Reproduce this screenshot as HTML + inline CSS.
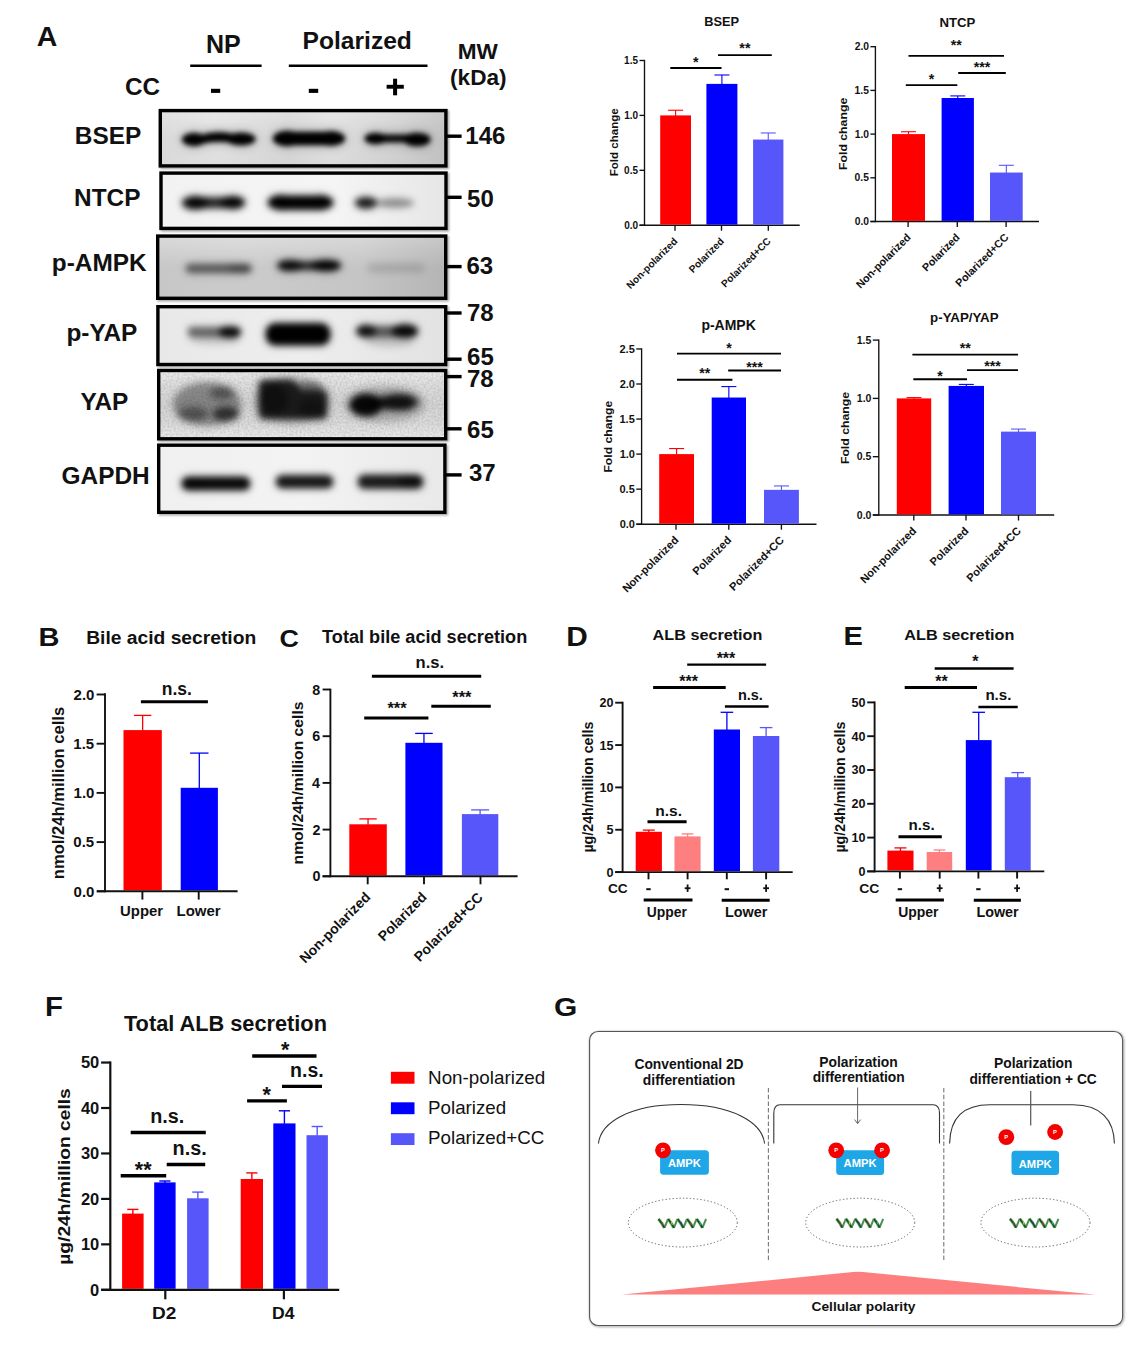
<!DOCTYPE html><html><head><meta charset="utf-8"><title>Figure</title><style>html,body{margin:0;padding:0;background:#fff;width:1147px;height:1345px;overflow:hidden;}svg{display:block;font-family:"Liberation Sans",sans-serif;}</style></head><body><svg width="1147" height="1345" viewBox="0 0 1147 1345" font-family="Liberation Sans, sans-serif"><defs><filter id="bl2" x="-30%" y="-60%" width="160%" height="220%"><feGaussianBlur stdDeviation="2"/></filter><filter id="bl15" x="-30%" y="-60%" width="160%" height="220%"><feGaussianBlur stdDeviation="1.5"/></filter><filter id="bl25" x="-30%" y="-60%" width="160%" height="220%"><feGaussianBlur stdDeviation="2.5"/></filter><filter id="bl23" x="-30%" y="-60%" width="160%" height="220%"><feGaussianBlur stdDeviation="2.6"/></filter><filter id="bl28" x="-30%" y="-60%" width="160%" height="220%"><feGaussianBlur stdDeviation="3.1"/></filter><filter id="bl6" x="-30%" y="-100%" width="160%" height="300%"><feGaussianBlur stdDeviation="5.5"/></filter><filter id="bl3" x="-30%" y="-60%" width="160%" height="220%"><feGaussianBlur stdDeviation="3"/></filter><filter id="noise" x="0" y="0" width="100%" height="100%"><feTurbulence type="fractalNoise" baseFrequency="0.5" numOctaves="2" seed="3" result="t0"/><feGaussianBlur in="t0" stdDeviation="0.5" result="t"/><feColorMatrix in="t" type="matrix" values="0 0 0 0 0  0 0 0 0 0  0 0 0 0 0  1.2 0 0 0 -0.4" result="a"/><feComposite in="a" in2="SourceGraphic" operator="in"/></filter><filter id="shadow" x="-5%" y="-10%" width="115%" height="130%"><feGaussianBlur stdDeviation="1.2"/></filter><linearGradient id="g_bsep" x1="0" y1="0" x2="1" y2="0"><stop offset="0" stop-color="#e2e2e2"/><stop offset="0.2" stop-color="#e8e8e8"/><stop offset="0.45" stop-color="#dedede"/><stop offset="0.6" stop-color="#e6e6e6"/><stop offset="0.8" stop-color="#dadada"/><stop offset="1" stop-color="#c8c8c8"/></linearGradient><linearGradient id="g_ntcp" x1="0" y1="0" x2="1" y2="0"><stop offset="0" stop-color="#f2f2f2"/><stop offset="0.6" stop-color="#f5f5f5"/><stop offset="1" stop-color="#e6e6e6"/></linearGradient><linearGradient id="g_ampk" x1="0" y1="0" x2="1" y2="0"><stop offset="0" stop-color="#d8d8d8"/><stop offset="0.3" stop-color="#dcdcdc"/><stop offset="0.7" stop-color="#d6d6d6"/><stop offset="1" stop-color="#c4c4c4"/></linearGradient><linearGradient id="g_pyap" x1="0" y1="0" x2="1" y2="0"><stop offset="0" stop-color="#e8e8e8"/><stop offset="0.5" stop-color="#eeeeee"/><stop offset="1" stop-color="#e2e2e2"/></linearGradient><linearGradient id="g_yap" x1="0" y1="0" x2="0" y2="1"><stop offset="0" stop-color="#eeeeee"/><stop offset="0.25" stop-color="#dedede"/><stop offset="0.5" stop-color="#d6d6d6"/><stop offset="0.75" stop-color="#dcdcdc"/><stop offset="1" stop-color="#eeeeee"/></linearGradient><linearGradient id="g_gapdh" x1="0" y1="0" x2="1" y2="0"><stop offset="0" stop-color="#f0f0f0"/><stop offset="0.5" stop-color="#f3f3f3"/><stop offset="1" stop-color="#e9e9e9"/></linearGradient><linearGradient id="v_ampk" x1="0" y1="0" x2="0" y2="1"><stop offset="0" stop-color="#fff"/><stop offset="0.5" stop-color="#000"/><stop offset="1" stop-color="#000"/></linearGradient><clipPath id="clipbox0"><rect x="158.6" y="108.9" width="289" height="58.7"/></clipPath><clipPath id="clipbox1"><rect x="159.3" y="171.4" width="288.4" height="58.7"/></clipPath><clipPath id="clipbox2"><rect x="156" y="234.4" width="291.4" height="65.6"/></clipPath><clipPath id="clipbox3"><rect x="156.2" y="305" width="291.2" height="61.2"/></clipPath><clipPath id="clipbox4"><rect x="157" y="368.8" width="290.4" height="71.7"/></clipPath><clipPath id="clipbox5"><rect x="157" y="443.5" width="289.6" height="70.5"/></clipPath><filter id="gsh" x="-5%" y="-5%" width="110%" height="110%"><feGaussianBlur stdDeviation="0.8"/></filter></defs><rect x="160.1" y="110.4" width="289" height="58.7" fill="#000" fill-opacity="0.35" filter="url(#shadow)"/>
<rect x="160.8" y="172.9" width="288.4" height="58.7" fill="#000" fill-opacity="0.35" filter="url(#shadow)"/>
<rect x="157.5" y="235.9" width="291.4" height="65.6" fill="#000" fill-opacity="0.35" filter="url(#shadow)"/>
<rect x="157.7" y="306.5" width="291.2" height="61.2" fill="#000" fill-opacity="0.35" filter="url(#shadow)"/>
<rect x="158.5" y="370.3" width="290.4" height="71.7" fill="#000" fill-opacity="0.35" filter="url(#shadow)"/>
<rect x="158.5" y="445" width="289.6" height="70.5" fill="#000" fill-opacity="0.35" filter="url(#shadow)"/>
<rect x="158.6" y="108.9" width="289" height="58.7" fill="url(#g_bsep)"/>
<rect x="159.3" y="171.4" width="288.4" height="58.7" fill="url(#g_ntcp)"/>
<rect x="156" y="234.4" width="291.4" height="65.6" fill="url(#g_ampk)"/>
<rect x="156.2" y="305" width="291.2" height="61.2" fill="url(#g_pyap)"/>
<rect x="157" y="368.8" width="290.4" height="71.7" fill="url(#g_yap)"/>
<rect x="157" y="443.5" width="289.6" height="70.5" fill="url(#g_gapdh)"/>
<rect x="156" y="234.4" width="291.4" height="65.6" fill="url(#v_ampk)" opacity="0.08"/>
<rect x="158.6" y="108.9" width="289" height="58.7" fill="url(#v_ampk)" opacity="0.04"/>
<rect x="157" y="368.8" width="290.4" height="71.7" fill="#666" filter="url(#noise)" opacity="0.2"/>
<g clip-path="url(#clipbox0)"><g filter="url(#bl6)" opacity="0.35"><ellipse cx="194" cy="139.5" rx="12" ry="6.5" fill="#000" fill-opacity="1.0"/><ellipse cx="241" cy="139" rx="14.5" ry="6.2" fill="#000" fill-opacity="1.0"/><path d="M200 135.5 Q216 130 233 134 L233 143 Q216 140 200 144 Z" fill="#000"/><ellipse cx="287" cy="138.5" rx="14" ry="7.5" fill="#000" fill-opacity="1.0"/><ellipse cx="331" cy="138.5" rx="14" ry="7.2" fill="#000" fill-opacity="1.0"/><rect x="285" y="132" width="48" height="13" rx="0" fill="#000" fill-opacity="1.0"/><ellipse cx="375.5" cy="138.5" rx="11" ry="5.6" fill="#000" fill-opacity="1.0"/><ellipse cx="417" cy="139.5" rx="13.5" ry="6.6" fill="#000" fill-opacity="1.0"/><rect x="380" y="134.6" width="30" height="7.8" rx="0" fill="#000" fill-opacity="0.95"/></g><g filter="url(#bl23)"><ellipse cx="194" cy="139.5" rx="12" ry="6.5" fill="#000" fill-opacity="1.0"/><ellipse cx="241" cy="139" rx="14.5" ry="6.2" fill="#000" fill-opacity="1.0"/><path d="M200 135.5 Q216 130 233 134 L233 143 Q216 140 200 144 Z" fill="#000"/><ellipse cx="287" cy="138.5" rx="14" ry="7.5" fill="#000" fill-opacity="1.0"/><ellipse cx="331" cy="138.5" rx="14" ry="7.2" fill="#000" fill-opacity="1.0"/><rect x="285" y="132" width="48" height="13" rx="0" fill="#000" fill-opacity="1.0"/><ellipse cx="375.5" cy="138.5" rx="11" ry="5.6" fill="#000" fill-opacity="1.0"/><ellipse cx="417" cy="139.5" rx="13.5" ry="6.6" fill="#000" fill-opacity="1.0"/><rect x="380" y="134.6" width="30" height="7.8" rx="0" fill="#000" fill-opacity="0.95"/></g></g>
<g clip-path="url(#clipbox1)"><g filter="url(#bl6)" opacity="0.35"><ellipse cx="195" cy="202.8" rx="13" ry="6.5" fill="#000" fill-opacity="0.85"/><ellipse cx="233" cy="202.5" rx="12" ry="6.2" fill="#000" fill-opacity="0.9"/><rect x="188" y="197.5" width="52" height="10.5" rx="4" fill="#000" fill-opacity="0.8"/><ellipse cx="281" cy="202.5" rx="13" ry="7.2" fill="#000" fill-opacity="1.0"/><ellipse cx="320" cy="202.5" rx="13" ry="7" fill="#000" fill-opacity="1.0"/><rect x="280" y="196" width="41" height="13.5" rx="0" fill="#000" fill-opacity="1.0"/><ellipse cx="366" cy="202.8" rx="11" ry="5.6" fill="#000" fill-opacity="0.85"/><ellipse cx="395" cy="203" rx="19" ry="4.6" fill="#000" fill-opacity="0.35"/></g><g filter="url(#bl28)"><ellipse cx="195" cy="202.8" rx="13" ry="6.5" fill="#000" fill-opacity="0.85"/><ellipse cx="233" cy="202.5" rx="12" ry="6.2" fill="#000" fill-opacity="0.9"/><rect x="188" y="197.5" width="52" height="10.5" rx="4" fill="#000" fill-opacity="0.8"/><ellipse cx="281" cy="202.5" rx="13" ry="7.2" fill="#000" fill-opacity="1.0"/><ellipse cx="320" cy="202.5" rx="13" ry="7" fill="#000" fill-opacity="1.0"/><rect x="280" y="196" width="41" height="13.5" rx="0" fill="#000" fill-opacity="1.0"/><ellipse cx="366" cy="202.8" rx="11" ry="5.6" fill="#000" fill-opacity="0.85"/><ellipse cx="395" cy="203" rx="19" ry="4.6" fill="#000" fill-opacity="0.35"/></g></g>
<g clip-path="url(#clipbox2)"><g filter="url(#bl6)" opacity="0.35"><rect x="186" y="264" width="65" height="9" rx="4" fill="#000" fill-opacity="0.5"/><ellipse cx="240" cy="268.5" rx="12" ry="4.5" fill="#000" fill-opacity="0.2"/><ellipse cx="290" cy="265.5" rx="13" ry="5.5" fill="#000" fill-opacity="0.8"/><ellipse cx="326" cy="265.5" rx="15" ry="5.5" fill="#000" fill-opacity="0.95"/><rect x="280" y="261.5" width="58" height="8.5" rx="3" fill="#000" fill-opacity="0.75"/><rect x="368" y="263.5" width="56" height="9" rx="4" fill="#000" fill-opacity="0.1"/></g><g filter="url(#bl28)"><rect x="186" y="264" width="65" height="9" rx="4" fill="#000" fill-opacity="0.5"/><ellipse cx="240" cy="268.5" rx="12" ry="4.5" fill="#000" fill-opacity="0.2"/><ellipse cx="290" cy="265.5" rx="13" ry="5.5" fill="#000" fill-opacity="0.8"/><ellipse cx="326" cy="265.5" rx="15" ry="5.5" fill="#000" fill-opacity="0.95"/><rect x="280" y="261.5" width="58" height="8.5" rx="3" fill="#000" fill-opacity="0.75"/><rect x="368" y="263.5" width="56" height="9" rx="4" fill="#000" fill-opacity="0.1"/></g></g>
<g clip-path="url(#clipbox3)"><g filter="url(#bl6)" opacity="0.35"><rect x="188" y="327" width="52" height="10" rx="4" fill="#000" fill-opacity="0.5"/><ellipse cx="230" cy="332" rx="11" ry="5.5" fill="#000" fill-opacity="0.9"/><ellipse cx="215" cy="340" rx="25" ry="5" fill="#000" fill-opacity="0.1"/><rect x="266" y="323.5" width="64" height="21.5" rx="9" fill="#000" fill-opacity="1"/><ellipse cx="366" cy="331" rx="10" ry="6" fill="#000" fill-opacity="0.8"/><ellipse cx="405" cy="331" rx="13" ry="6.5" fill="#000" fill-opacity="0.9"/><rect x="358" y="326" width="59" height="11" rx="5" fill="#000" fill-opacity="0.55"/><ellipse cx="390" cy="341" rx="25" ry="6" fill="#000" fill-opacity="0.12"/></g><g filter="url(#bl28)"><rect x="188" y="327" width="52" height="10" rx="4" fill="#000" fill-opacity="0.5"/><ellipse cx="230" cy="332" rx="11" ry="5.5" fill="#000" fill-opacity="0.9"/><ellipse cx="215" cy="340" rx="25" ry="5" fill="#000" fill-opacity="0.1"/><rect x="266" y="323.5" width="64" height="21.5" rx="9" fill="#000" fill-opacity="1"/><ellipse cx="366" cy="331" rx="10" ry="6" fill="#000" fill-opacity="0.8"/><ellipse cx="405" cy="331" rx="13" ry="6.5" fill="#000" fill-opacity="0.9"/><rect x="358" y="326" width="59" height="11" rx="5" fill="#000" fill-opacity="0.55"/><ellipse cx="390" cy="341" rx="25" ry="6" fill="#000" fill-opacity="0.12"/></g></g>
<g clip-path="url(#clipbox4)"><g filter="url(#bl6)" opacity="0.35"><ellipse cx="207" cy="404" rx="34" ry="22" fill="#000" fill-opacity="0.3"/><ellipse cx="222" cy="393" rx="12" ry="6" fill="#000" fill-opacity="0.35"/><ellipse cx="226" cy="414" rx="13" ry="7" fill="#000" fill-opacity="0.6"/><ellipse cx="193" cy="414" rx="15" ry="7" fill="#000" fill-opacity="0.35"/><path d="M259 384 Q259 380 265 380 L290 380 Q297 381 300 391 L322 391 Q327 391 327 396 L327 414 Q327 419 321 419 L264 419 Q259 419 259 413 Z" fill="#000" fill-opacity="0.8"/><ellipse cx="274" cy="399" rx="14" ry="15" fill="#000" fill-opacity="0.4"/><ellipse cx="312" cy="408" rx="13" ry="9" fill="#000" fill-opacity="0.3"/><ellipse cx="309" cy="388" rx="14" ry="6" fill="#000" fill-opacity="0.35"/><ellipse cx="292" cy="400" rx="38" ry="24" fill="#000" fill-opacity="0.15"/><ellipse cx="366" cy="405" rx="16" ry="11" fill="#000" fill-opacity="0.95"/><ellipse cx="399" cy="402" rx="19" ry="8" fill="#000" fill-opacity="0.75"/><rect x="370" y="396" width="42" height="14" rx="5" fill="#000" fill-opacity="0.5"/><ellipse cx="385" cy="404" rx="40" ry="18" fill="#000" fill-opacity="0.15"/></g><g filter="url(#bl3)"><ellipse cx="207" cy="404" rx="34" ry="22" fill="#000" fill-opacity="0.3"/><ellipse cx="222" cy="393" rx="12" ry="6" fill="#000" fill-opacity="0.35"/><ellipse cx="226" cy="414" rx="13" ry="7" fill="#000" fill-opacity="0.6"/><ellipse cx="193" cy="414" rx="15" ry="7" fill="#000" fill-opacity="0.35"/><path d="M259 384 Q259 380 265 380 L290 380 Q297 381 300 391 L322 391 Q327 391 327 396 L327 414 Q327 419 321 419 L264 419 Q259 419 259 413 Z" fill="#000" fill-opacity="0.8"/><ellipse cx="274" cy="399" rx="14" ry="15" fill="#000" fill-opacity="0.4"/><ellipse cx="312" cy="408" rx="13" ry="9" fill="#000" fill-opacity="0.3"/><ellipse cx="309" cy="388" rx="14" ry="6" fill="#000" fill-opacity="0.35"/><ellipse cx="292" cy="400" rx="38" ry="24" fill="#000" fill-opacity="0.15"/><ellipse cx="366" cy="405" rx="16" ry="11" fill="#000" fill-opacity="0.95"/><ellipse cx="399" cy="402" rx="19" ry="8" fill="#000" fill-opacity="0.75"/><rect x="370" y="396" width="42" height="14" rx="5" fill="#000" fill-opacity="0.5"/><ellipse cx="385" cy="404" rx="40" ry="18" fill="#000" fill-opacity="0.15"/></g></g>
<g clip-path="url(#clipbox5)"><g filter="url(#bl6)" opacity="0.35"><rect x="182" y="477" width="68" height="13" rx="6" fill="#000" fill-opacity="0.95"/><ellipse cx="192" cy="484" rx="11" ry="6.5" fill="#000" fill-opacity="0.3"/><rect x="276" y="475.5" width="57" height="12.5" rx="6" fill="#000" fill-opacity="0.88"/><rect x="358" y="475" width="65" height="13.5" rx="6" fill="#000" fill-opacity="0.85"/><ellipse cx="410" cy="481.5" rx="12" ry="6.5" fill="#000" fill-opacity="0.5"/></g><g filter="url(#bl28)"><rect x="182" y="477" width="68" height="13" rx="6" fill="#000" fill-opacity="0.95"/><ellipse cx="192" cy="484" rx="11" ry="6.5" fill="#000" fill-opacity="0.3"/><rect x="276" y="475.5" width="57" height="12.5" rx="6" fill="#000" fill-opacity="0.88"/><rect x="358" y="475" width="65" height="13.5" rx="6" fill="#000" fill-opacity="0.85"/><ellipse cx="410" cy="481.5" rx="12" ry="6.5" fill="#000" fill-opacity="0.5"/></g></g>
<rect x="160.3" y="110.6" width="285.6" height="55.3" fill="none" stroke="#000" stroke-width="3.4"/>
<rect x="161" y="173.1" width="285" height="55.3" fill="none" stroke="#000" stroke-width="3.4"/>
<rect x="157.7" y="236.1" width="288" height="62.2" fill="none" stroke="#000" stroke-width="3.4"/>
<rect x="157.9" y="306.7" width="287.8" height="57.8" fill="none" stroke="#000" stroke-width="3.4"/>
<rect x="158.7" y="370.5" width="287" height="68.3" fill="none" stroke="#000" stroke-width="3.4"/>
<rect x="158.7" y="445.2" width="286.2" height="67.1" fill="none" stroke="#000" stroke-width="3.4"/>
<text x="36.69" y="46" font-size="28.5" font-weight="bold" text-anchor="start" fill="#111" >A</text>
<text x="205.93" y="52.7" font-size="25" font-weight="bold" text-anchor="start" fill="#111" >NP</text>
<text x="302.55" y="49.3" font-size="24.6" font-weight="bold" text-anchor="start" fill="#111" >Polarized</text>
<line x1="190.2" y1="65.8" x2="261.6" y2="65.8" stroke="#000" stroke-width="2.4" />
<line x1="288.8" y1="65.8" x2="427.5" y2="65.8" stroke="#000" stroke-width="2.4" />
<text x="125" y="95.2" font-size="24.3" font-weight="bold" text-anchor="start" fill="#111" >CC</text>
<rect x="211" y="88.8" width="9.2" height="4.1" fill="#000" />
<rect x="308.8" y="88.8" width="9.4" height="4.1" fill="#000" />
<rect x="386.6" y="84.8" width="17.2" height="3.9" fill="#000" />
<rect x="393.1" y="78.7" width="4" height="16.6" fill="#000" />
<text x="457.69" y="58.6" font-size="22.6" font-weight="bold" text-anchor="start" fill="#111" >MW</text>
<text x="450.07" y="85.1" font-size="22.6" font-weight="bold" text-anchor="start" fill="#111" >(kDa)</text>
<text x="74.77" y="143.9" font-size="24.4" font-weight="bold" text-anchor="start" fill="#111" >BSEP</text>
<text x="74.07" y="206.4" font-size="24.4" font-weight="bold" text-anchor="start" fill="#111" >NTCP</text>
<text x="51.79" y="271.4" font-size="24.4" font-weight="bold" text-anchor="start" fill="#111" >p-AMPK</text>
<text x="66.39" y="341.4" font-size="24.4" font-weight="bold" text-anchor="start" fill="#111" >p-YAP</text>
<text x="80.48" y="410" font-size="24.4" font-weight="bold" text-anchor="start" fill="#111" >YAP</text>
<text x="61.6" y="484.1" font-size="24.4" font-weight="bold" text-anchor="start" fill="#111" >GAPDH</text>
<rect x="446" y="134.5" width="15.6" height="3.4" fill="#000" />
<rect x="446" y="195.6" width="15.6" height="3.4" fill="#000" />
<rect x="446" y="264.9" width="15.6" height="3.4" fill="#000" />
<rect x="446" y="311.3" width="15.6" height="3.4" fill="#000" />
<rect x="446" y="357.5" width="15.6" height="3.4" fill="#000" />
<rect x="446" y="374.9" width="15.6" height="3.4" fill="#000" />
<rect x="446" y="427.1" width="15.6" height="3.4" fill="#000" />
<rect x="446" y="473.2" width="15.6" height="3.4" fill="#000" />
<text x="465.29" y="143.8" font-size="24" font-weight="bold" text-anchor="start" fill="#111" >146</text>
<text x="467.06" y="206.7" font-size="24" font-weight="bold" text-anchor="start" fill="#111" >50</text>
<text x="466.52" y="273.8" font-size="24" font-weight="bold" text-anchor="start" fill="#111" >63</text>
<text x="466.97" y="321" font-size="24" font-weight="bold" text-anchor="start" fill="#111" >78</text>
<text x="467.12" y="365.2" font-size="24" font-weight="bold" text-anchor="start" fill="#111" >65</text>
<text x="466.97" y="387" font-size="24" font-weight="bold" text-anchor="start" fill="#111" >78</text>
<text x="467.12" y="438.4" font-size="24" font-weight="bold" text-anchor="start" fill="#111" >65</text>
<text x="468.95" y="480.5" font-size="24" font-weight="bold" text-anchor="start" fill="#111" >37</text>
<text x="704.16" y="26.2" font-size="12.8" font-weight="bold" text-anchor="start" fill="#111" >BSEP</text>
<line x1="644.5" y1="59.83" x2="644.5" y2="225.88" stroke="#111" stroke-width="1.35" />
<line x1="639.5" y1="225.2" x2="644.5" y2="225.2" stroke="#111" stroke-width="1.35" />
<text x="624.21" y="228.74" font-size="10" font-weight="bold" text-anchor="start" fill="#111" >0.0</text>
<line x1="639.5" y1="170.3" x2="644.5" y2="170.3" stroke="#111" stroke-width="1.35" />
<text x="624.08" y="173.84" font-size="10" font-weight="bold" text-anchor="start" fill="#111" >0.5</text>
<line x1="639.5" y1="115.4" x2="644.5" y2="115.4" stroke="#111" stroke-width="1.35" />
<text x="624.21" y="118.94" font-size="10" font-weight="bold" text-anchor="start" fill="#111" >1.0</text>
<line x1="639.5" y1="60.5" x2="644.5" y2="60.5" stroke="#111" stroke-width="1.35" />
<text x="624.08" y="64.04" font-size="10" font-weight="bold" text-anchor="start" fill="#111" >1.5</text>
<line x1="639.5" y1="225.2" x2="799.7" y2="225.2" stroke="#111" stroke-width="1.35" />
<line x1="675" y1="225.2" x2="675" y2="230.7" stroke="#111" stroke-width="1.35" />
<line x1="721.5" y1="225.2" x2="721.5" y2="230.7" stroke="#111" stroke-width="1.35" />
<line x1="768.3" y1="225.2" x2="768.3" y2="230.7" stroke="#111" stroke-width="1.35" />
<rect x="660.2" y="115.4" width="30.8" height="109.2" fill="#fe0000" />
<line x1="675.6" y1="110.24" x2="675.6" y2="115.9" stroke="#fe0000" stroke-width="1.1" />
<line x1="668.1" y1="110.24" x2="683.1" y2="110.24" stroke="#fe0000" stroke-width="1.1" />
<rect x="706.4" y="83.89" width="31" height="140.71" fill="#0000fe" />
<line x1="721.9" y1="74.99" x2="721.9" y2="84.39" stroke="#0000fe" stroke-width="1.1" />
<line x1="714.4" y1="74.99" x2="729.4" y2="74.99" stroke="#0000fe" stroke-width="1.1" />
<rect x="753.1" y="139.56" width="30.3" height="85.04" fill="#5656fb" />
<line x1="768.25" y1="132.97" x2="768.25" y2="140.06" stroke="#5656fb" stroke-width="1.1" />
<line x1="760.75" y1="132.97" x2="775.75" y2="132.97" stroke="#5656fb" stroke-width="1.1" />
<line x1="670.3" y1="68" x2="721.5" y2="68" stroke="#000" stroke-width="1.9" />
<text x="693.12" y="66.53" font-size="14.2" font-weight="bold" text-anchor="start" fill="#111" >*</text>
<line x1="718" y1="55.1" x2="771.8" y2="55.1" stroke="#000" stroke-width="1.9" />
<text x="739.36" y="52.53" font-size="14.2" font-weight="bold" text-anchor="start" fill="#111" >**</text>
<text x="0" y="0" font-size="10.1" font-weight="bold" text-anchor="end" fill="#111" transform="translate(678.2 241.8) rotate(-45)">Non-polarized</text>
<text x="0" y="0" font-size="10.1" font-weight="bold" text-anchor="end" fill="#111" transform="translate(724.7 241.8) rotate(-45)">Polarized</text>
<text x="0" y="0" font-size="10.1" font-weight="bold" text-anchor="end" fill="#111" transform="translate(771.5 241.8) rotate(-45)">Polarized+CC</text>
<text x="-0.77" y="0" font-size="11.3" font-weight="bold" fill="#111" textLength="68.07" lengthAdjust="spacingAndGlyphs" transform="translate(617.8 175.5) rotate(-90)">Fold change</text>
<text x="939.42" y="27.4" font-size="13.2" font-weight="bold" text-anchor="start" fill="#111" >NTCP</text>
<line x1="875.4" y1="46.02" x2="875.4" y2="222.18" stroke="#111" stroke-width="1.35" />
<line x1="870.4" y1="221.5" x2="875.4" y2="221.5" stroke="#111" stroke-width="1.35" />
<text x="854.7" y="225.15" font-size="10.3" font-weight="bold" text-anchor="start" fill="#111" >0.0</text>
<line x1="870.4" y1="177.8" x2="875.4" y2="177.8" stroke="#111" stroke-width="1.35" />
<text x="854.57" y="181.45" font-size="10.3" font-weight="bold" text-anchor="start" fill="#111" >0.5</text>
<line x1="870.4" y1="134.1" x2="875.4" y2="134.1" stroke="#111" stroke-width="1.35" />
<text x="854.7" y="137.75" font-size="10.3" font-weight="bold" text-anchor="start" fill="#111" >1.0</text>
<line x1="870.4" y1="90.4" x2="875.4" y2="90.4" stroke="#111" stroke-width="1.35" />
<text x="854.57" y="94.05" font-size="10.3" font-weight="bold" text-anchor="start" fill="#111" >1.5</text>
<line x1="870.4" y1="46.7" x2="875.4" y2="46.7" stroke="#111" stroke-width="1.35" />
<text x="854.7" y="50.35" font-size="10.3" font-weight="bold" text-anchor="start" fill="#111" >2.0</text>
<line x1="870.4" y1="221.5" x2="1039" y2="221.5" stroke="#111" stroke-width="1.35" />
<line x1="908.1" y1="221.5" x2="908.1" y2="227" stroke="#111" stroke-width="1.35" />
<line x1="957.3" y1="221.5" x2="957.3" y2="227" stroke="#111" stroke-width="1.35" />
<line x1="1006.1" y1="221.5" x2="1006.1" y2="227" stroke="#111" stroke-width="1.35" />
<rect x="892" y="134.1" width="33" height="86.8" fill="#fe0000" />
<line x1="908.5" y1="131.74" x2="908.5" y2="134.6" stroke="#fe0000" stroke-width="1.1" />
<line x1="901" y1="131.74" x2="916" y2="131.74" stroke="#fe0000" stroke-width="1.1" />
<rect x="941.6" y="98" width="32.3" height="122.9" fill="#0000fe" />
<line x1="957.75" y1="95.91" x2="957.75" y2="98.5" stroke="#0000fe" stroke-width="1.1" />
<line x1="950.25" y1="95.91" x2="965.25" y2="95.91" stroke="#0000fe" stroke-width="1.1" />
<rect x="990" y="172.56" width="32.7" height="48.34" fill="#5656fb" />
<line x1="1006.35" y1="165.3" x2="1006.35" y2="173.06" stroke="#5656fb" stroke-width="1.1" />
<line x1="998.85" y1="165.3" x2="1013.85" y2="165.3" stroke="#5656fb" stroke-width="1.1" />
<line x1="908.5" y1="55.9" x2="1004" y2="55.9" stroke="#000" stroke-width="1.9" />
<text x="950.71" y="50.43" font-size="14.2" font-weight="bold" text-anchor="start" fill="#111" >**</text>
<line x1="958.2" y1="73" x2="1005.8" y2="73" stroke="#000" stroke-width="1.9" />
<text x="973.7" y="72.43" font-size="14.2" font-weight="bold" text-anchor="start" fill="#111" >***</text>
<line x1="905.8" y1="85.1" x2="957.3" y2="85.1" stroke="#000" stroke-width="1.9" />
<text x="928.77" y="83.93" font-size="14.2" font-weight="bold" text-anchor="start" fill="#111" >*</text>
<text x="0" y="0" font-size="10.8" font-weight="bold" text-anchor="end" fill="#111" transform="translate(911.3 238.1) rotate(-45)">Non-polarized</text>
<text x="0" y="0" font-size="10.8" font-weight="bold" text-anchor="end" fill="#111" transform="translate(960.5 238.1) rotate(-45)">Polarized</text>
<text x="0" y="0" font-size="10.8" font-weight="bold" text-anchor="end" fill="#111" transform="translate(1009.3 238.1) rotate(-45)">Polarized+CC</text>
<text x="-0.82" y="0" font-size="11.8" font-weight="bold" fill="#111" textLength="72.24" lengthAdjust="spacingAndGlyphs" transform="translate(847 169.2) rotate(-90)">Fold change</text>
<text x="701.39" y="330.2" font-size="14" font-weight="bold" text-anchor="start" fill="#111" >p-AMPK</text>
<line x1="641.6" y1="348.28" x2="641.6" y2="524.88" stroke="#111" stroke-width="1.35" />
<line x1="636.3" y1="524.2" x2="641.6" y2="524.2" stroke="#111" stroke-width="1.35" />
<text x="619.66" y="528.09" font-size="11" font-weight="bold" text-anchor="start" fill="#111" >0.0</text>
<line x1="636.3" y1="489.15" x2="641.6" y2="489.15" stroke="#111" stroke-width="1.35" />
<text x="619.51" y="493.04" font-size="11" font-weight="bold" text-anchor="start" fill="#111" >0.5</text>
<line x1="636.3" y1="454.1" x2="641.6" y2="454.1" stroke="#111" stroke-width="1.35" />
<text x="619.66" y="457.99" font-size="11" font-weight="bold" text-anchor="start" fill="#111" >1.0</text>
<line x1="636.3" y1="419.05" x2="641.6" y2="419.05" stroke="#111" stroke-width="1.35" />
<text x="619.51" y="422.94" font-size="11" font-weight="bold" text-anchor="start" fill="#111" >1.5</text>
<line x1="636.3" y1="384" x2="641.6" y2="384" stroke="#111" stroke-width="1.35" />
<text x="619.66" y="387.89" font-size="11" font-weight="bold" text-anchor="start" fill="#111" >2.0</text>
<line x1="636.3" y1="348.95" x2="641.6" y2="348.95" stroke="#111" stroke-width="1.35" />
<text x="619.51" y="352.84" font-size="11" font-weight="bold" text-anchor="start" fill="#111" >2.5</text>
<line x1="636.3" y1="524.2" x2="816.5" y2="524.2" stroke="#111" stroke-width="1.35" />
<line x1="676" y1="524.2" x2="676" y2="529.7" stroke="#111" stroke-width="1.35" />
<line x1="728.8" y1="524.2" x2="728.8" y2="529.7" stroke="#111" stroke-width="1.35" />
<line x1="781.4" y1="524.2" x2="781.4" y2="529.7" stroke="#111" stroke-width="1.35" />
<rect x="659.2" y="454.1" width="34.8" height="69.5" fill="#fe0000" />
<line x1="676.6" y1="448.56" x2="676.6" y2="454.6" stroke="#fe0000" stroke-width="1.1" />
<line x1="669.1" y1="448.56" x2="684.1" y2="448.56" stroke="#fe0000" stroke-width="1.1" />
<rect x="711.7" y="397.53" width="34.3" height="126.07" fill="#0000fe" />
<line x1="728.85" y1="386.59" x2="728.85" y2="398.03" stroke="#0000fe" stroke-width="1.1" />
<line x1="721.35" y1="386.59" x2="736.35" y2="386.59" stroke="#0000fe" stroke-width="1.1" />
<rect x="764" y="489.85" width="34.9" height="33.75" fill="#5656fb" />
<line x1="781.45" y1="485.93" x2="781.45" y2="490.35" stroke="#5656fb" stroke-width="1.1" />
<line x1="773.95" y1="485.93" x2="788.95" y2="485.93" stroke="#5656fb" stroke-width="1.1" />
<line x1="677" y1="353.6" x2="781" y2="353.6" stroke="#000" stroke-width="1.9" />
<text x="726.22" y="353.43" font-size="14.2" font-weight="bold" text-anchor="start" fill="#111" >*</text>
<line x1="728.2" y1="370.5" x2="781" y2="370.5" stroke="#000" stroke-width="1.9" />
<text x="746.3" y="372.13" font-size="14.2" font-weight="bold" text-anchor="start" fill="#111" >***</text>
<line x1="677" y1="379.8" x2="732.4" y2="379.8" stroke="#000" stroke-width="1.9" />
<text x="699.16" y="377.63" font-size="14.2" font-weight="bold" text-anchor="start" fill="#111" >**</text>
<text x="0" y="0" font-size="11.1" font-weight="bold" text-anchor="end" fill="#111" transform="translate(679.2 540.8) rotate(-45)">Non-polarized</text>
<text x="0" y="0" font-size="11.1" font-weight="bold" text-anchor="end" fill="#111" transform="translate(732 540.8) rotate(-45)">Polarized</text>
<text x="0" y="0" font-size="11.1" font-weight="bold" text-anchor="end" fill="#111" transform="translate(784.6 540.8) rotate(-45)">Polarized+CC</text>
<text x="-0.82" y="0" font-size="11.8" font-weight="bold" fill="#111" textLength="71.83" lengthAdjust="spacingAndGlyphs" transform="translate(611.5 471.8) rotate(-90)">Fold change</text>
<text x="930.12" y="322" font-size="13.3" font-weight="bold" text-anchor="start" fill="#111" >p-YAP/YAP</text>
<line x1="878.8" y1="339.43" x2="878.8" y2="515.67" stroke="#111" stroke-width="1.35" />
<line x1="872.8" y1="515" x2="878.8" y2="515" stroke="#111" stroke-width="1.35" />
<text x="856.83" y="518.72" font-size="10.5" font-weight="bold" text-anchor="start" fill="#111" >0.0</text>
<line x1="872.8" y1="456.7" x2="878.8" y2="456.7" stroke="#111" stroke-width="1.35" />
<text x="856.7" y="460.42" font-size="10.5" font-weight="bold" text-anchor="start" fill="#111" >0.5</text>
<line x1="872.8" y1="398.4" x2="878.8" y2="398.4" stroke="#111" stroke-width="1.35" />
<text x="856.83" y="402.12" font-size="10.5" font-weight="bold" text-anchor="start" fill="#111" >1.0</text>
<line x1="872.8" y1="340.1" x2="878.8" y2="340.1" stroke="#111" stroke-width="1.35" />
<text x="856.7" y="343.82" font-size="10.5" font-weight="bold" text-anchor="start" fill="#111" >1.5</text>
<line x1="872.8" y1="515" x2="1054.2" y2="515" stroke="#111" stroke-width="1.35" />
<line x1="913.8" y1="515" x2="913.8" y2="520.5" stroke="#111" stroke-width="1.35" />
<line x1="966" y1="515" x2="966" y2="520.5" stroke="#111" stroke-width="1.35" />
<line x1="1018.5" y1="515" x2="1018.5" y2="520.5" stroke="#111" stroke-width="1.35" />
<rect x="896.8" y="398.4" width="34.4" height="116" fill="#fe0000" />
<line x1="914" y1="397.58" x2="914" y2="398.9" stroke="#fe0000" stroke-width="1.1" />
<line x1="906.5" y1="397.58" x2="921.5" y2="397.58" stroke="#fe0000" stroke-width="1.1" />
<rect x="948.6" y="385.92" width="35.4" height="128.48" fill="#0000fe" />
<line x1="966.3" y1="384.41" x2="966.3" y2="386.42" stroke="#0000fe" stroke-width="1.1" />
<line x1="958.8" y1="384.41" x2="973.8" y2="384.41" stroke="#0000fe" stroke-width="1.1" />
<rect x="1001" y="431.63" width="35" height="82.77" fill="#5656fb" />
<line x1="1018.5" y1="429.07" x2="1018.5" y2="432.13" stroke="#5656fb" stroke-width="1.1" />
<line x1="1011" y1="429.07" x2="1026" y2="429.07" stroke="#5656fb" stroke-width="1.1" />
<line x1="912.4" y1="354.6" x2="1018" y2="354.6" stroke="#000" stroke-width="1.9" />
<text x="959.66" y="353.43" font-size="14.2" font-weight="bold" text-anchor="start" fill="#111" >**</text>
<line x1="967" y1="370.1" x2="1018" y2="370.1" stroke="#000" stroke-width="1.9" />
<text x="984.2" y="371.13" font-size="14.2" font-weight="bold" text-anchor="start" fill="#111" >***</text>
<line x1="913.3" y1="379.3" x2="967" y2="379.3" stroke="#000" stroke-width="1.9" />
<text x="937.37" y="380.53" font-size="14.2" font-weight="bold" text-anchor="start" fill="#111" >*</text>
<text x="0" y="0" font-size="11.1" font-weight="bold" text-anchor="end" fill="#111" transform="translate(917 531.6) rotate(-45)">Non-polarized</text>
<text x="0" y="0" font-size="11.1" font-weight="bold" text-anchor="end" fill="#111" transform="translate(969.2 531.6) rotate(-45)">Polarized</text>
<text x="0" y="0" font-size="11.1" font-weight="bold" text-anchor="end" fill="#111" transform="translate(1021.7 531.6) rotate(-45)">Polarized+CC</text>
<text x="-0.82" y="0" font-size="11.8" font-weight="bold" fill="#111" textLength="72.24" lengthAdjust="spacingAndGlyphs" transform="translate(848.8 463.3) rotate(-90)">Fold change</text>
<text x="38.56" y="646.4" font-size="26" font-weight="bold" fill="#111" textLength="20.96" lengthAdjust="spacingAndGlyphs">B</text>
<text x="86.21" y="643.9" font-size="19.2" font-weight="bold" fill="#111" textLength="169.98" lengthAdjust="spacingAndGlyphs">Bile acid secretion</text>
<line x1="105" y1="693.35" x2="105" y2="892.25" stroke="#111" stroke-width="1.9" />
<line x1="96.6" y1="891.3" x2="105" y2="891.3" stroke="#111" stroke-width="1.9" />
<text x="73.56" y="896.61" font-size="15" font-weight="bold" text-anchor="start" fill="#111" >0.0</text>
<line x1="96.6" y1="842.1" x2="105" y2="842.1" stroke="#111" stroke-width="1.9" />
<text x="73.37" y="847.41" font-size="15" font-weight="bold" text-anchor="start" fill="#111" >0.5</text>
<line x1="96.6" y1="792.9" x2="105" y2="792.9" stroke="#111" stroke-width="1.9" />
<text x="73.56" y="798.21" font-size="15" font-weight="bold" text-anchor="start" fill="#111" >1.0</text>
<line x1="96.6" y1="743.7" x2="105" y2="743.7" stroke="#111" stroke-width="1.9" />
<text x="73.37" y="749.01" font-size="15" font-weight="bold" text-anchor="start" fill="#111" >1.5</text>
<line x1="96.6" y1="694.5" x2="105" y2="694.5" stroke="#111" stroke-width="1.9" />
<text x="73.56" y="699.81" font-size="15" font-weight="bold" text-anchor="start" fill="#111" >2.0</text>
<rect x="123.5" y="730.1" width="38.3" height="160.2" fill="#fe0000" />
<line x1="142.65" y1="715.4" x2="142.65" y2="730.6" stroke="#fe0000" stroke-width="1.3" />
<line x1="133.95" y1="715.4" x2="151.35" y2="715.4" stroke="#fe0000" stroke-width="1.3" />
<rect x="180.7" y="787.8" width="37.2" height="102.5" fill="#0000fe" />
<line x1="199.3" y1="753.1" x2="199.3" y2="788.3" stroke="#0000fe" stroke-width="1.3" />
<line x1="190.1" y1="753.1" x2="208.5" y2="753.1" stroke="#0000fe" stroke-width="1.3" />
<line x1="97" y1="891.3" x2="237.6" y2="891.3" stroke="#111" stroke-width="1.9" />
<line x1="142.4" y1="891.3" x2="142.4" y2="899.6" stroke="#111" stroke-width="1.9" />
<line x1="198.7" y1="891.3" x2="198.7" y2="899.6" stroke="#111" stroke-width="1.9" />
<line x1="140.9" y1="701.8" x2="207.9" y2="701.8" stroke="#000" stroke-width="3" />
<text x="161.75" y="694.5" font-size="18" font-weight="bold" fill="#111" textLength="30.16" lengthAdjust="spacingAndGlyphs">n.s.</text>
<text x="120.11" y="915.9" font-size="14" font-weight="bold" fill="#111" textLength="43.02" lengthAdjust="spacingAndGlyphs">Upper</text>
<text x="176.5" y="915.9" font-size="14" font-weight="bold" fill="#111" textLength="44.13" lengthAdjust="spacingAndGlyphs">Lower</text>
<text x="-1.09" y="0" font-size="16.6" font-weight="bold" fill="#111" textLength="172.37" lengthAdjust="spacingAndGlyphs" transform="translate(63.8 878.1) rotate(-90)">nmol/24h/million cells</text>
<text x="279.5" y="646.8" font-size="24" font-weight="bold" fill="#111" textLength="19.44" lengthAdjust="spacingAndGlyphs">C</text>
<text x="322.1" y="643.2" font-size="18.9" font-weight="bold" fill="#111" textLength="205.12" lengthAdjust="spacingAndGlyphs">Total bile acid secretion</text>
<line x1="330.4" y1="688.75" x2="330.4" y2="877.25" stroke="#111" stroke-width="1.9" />
<line x1="322.6" y1="876.3" x2="330.4" y2="876.3" stroke="#111" stroke-width="1.9" />
<text x="312.43" y="881.36" font-size="14.3" font-weight="bold" text-anchor="start" fill="#111" >0</text>
<line x1="322.6" y1="829.6" x2="330.4" y2="829.6" stroke="#111" stroke-width="1.9" />
<text x="312.42" y="834.66" font-size="14.3" font-weight="bold" text-anchor="start" fill="#111" >2</text>
<line x1="322.6" y1="782.9" x2="330.4" y2="782.9" stroke="#111" stroke-width="1.9" />
<text x="311.92" y="787.96" font-size="14.3" font-weight="bold" text-anchor="start" fill="#111" >4</text>
<line x1="322.6" y1="736.2" x2="330.4" y2="736.2" stroke="#111" stroke-width="1.9" />
<text x="312.36" y="741.26" font-size="14.3" font-weight="bold" text-anchor="start" fill="#111" >6</text>
<line x1="322.6" y1="689.5" x2="330.4" y2="689.5" stroke="#111" stroke-width="1.9" />
<text x="312.29" y="694.56" font-size="14.3" font-weight="bold" text-anchor="start" fill="#111" >8</text>
<rect x="349.3" y="824.3" width="37.5" height="51" fill="#fe0000" />
<line x1="368.05" y1="818.9" x2="368.05" y2="824.8" stroke="#fe0000" stroke-width="1.3" />
<line x1="359.35" y1="818.9" x2="376.75" y2="818.9" stroke="#fe0000" stroke-width="1.3" />
<rect x="405.4" y="742.8" width="37.1" height="132.5" fill="#0000fe" />
<line x1="423.95" y1="733.4" x2="423.95" y2="743.3" stroke="#0000fe" stroke-width="1.3" />
<line x1="415.15" y1="733.4" x2="432.75" y2="733.4" stroke="#0000fe" stroke-width="1.3" />
<rect x="461.9" y="814.1" width="36.4" height="61.2" fill="#5656fb" />
<line x1="480.1" y1="809.9" x2="480.1" y2="814.6" stroke="#5656fb" stroke-width="1.3" />
<line x1="471.1" y1="809.9" x2="489.1" y2="809.9" stroke="#5656fb" stroke-width="1.3" />
<line x1="322.6" y1="876.3" x2="517.6" y2="876.3" stroke="#111" stroke-width="1.9" />
<line x1="367.7" y1="876.3" x2="367.7" y2="884.3" stroke="#111" stroke-width="1.9" />
<line x1="424" y1="876.3" x2="424" y2="884.3" stroke="#111" stroke-width="1.9" />
<line x1="480.5" y1="876.3" x2="480.5" y2="884.3" stroke="#111" stroke-width="1.9" />
<line x1="371.9" y1="676.2" x2="481.2" y2="676.2" stroke="#000" stroke-width="3" />
<text x="415.61" y="668" font-size="17" font-weight="bold" fill="#111" textLength="28.53" lengthAdjust="spacingAndGlyphs">n.s.</text>
<line x1="431.3" y1="706.3" x2="490.8" y2="706.3" stroke="#000" stroke-width="3" />
<text x="452.25" y="703.28" font-size="16.5" font-weight="bold" text-anchor="start" fill="#111" >***</text>
<line x1="364.2" y1="718.1" x2="428.4" y2="718.1" stroke="#000" stroke-width="3" />
<text x="387.45" y="713.78" font-size="16.5" font-weight="bold" text-anchor="start" fill="#111" >***</text>
<text x="-0.94" y="0" font-size="14" font-weight="bold" fill="#111" textLength="93.33" lengthAdjust="spacingAndGlyphs" transform="translate(306.02 963.38) rotate(-45)">Non-polarized</text>
<text x="-0.94" y="0" font-size="14" font-weight="bold" fill="#111" textLength="62.24" lengthAdjust="spacingAndGlyphs" transform="translate(384.3 941.4) rotate(-45)">Polarized</text>
<text x="-0.94" y="0" font-size="14" font-weight="bold" fill="#111" textLength="90.64" lengthAdjust="spacingAndGlyphs" transform="translate(420.34 961.86) rotate(-45)">Polarized+CC</text>
<text x="-1.03" y="0" font-size="15.4" font-weight="bold" fill="#111" textLength="162.88" lengthAdjust="spacingAndGlyphs" transform="translate(303 863.4) rotate(-90)">nmol/24h/million cells</text>
<text x="566.2" y="646.1" font-size="27.5" font-weight="bold" fill="#111" textLength="21.55" lengthAdjust="spacingAndGlyphs">D</text>
<text x="652.6" y="640.1" font-size="15.5" font-weight="bold" fill="#111" textLength="109.81" lengthAdjust="spacingAndGlyphs">ALB secretion</text>
<line x1="622.6" y1="701.75" x2="622.6" y2="873.05" stroke="#111" stroke-width="1.9" />
<line x1="615.2" y1="872.1" x2="622.6" y2="872.1" stroke="#111" stroke-width="1.9" />
<text x="606.61" y="876.56" font-size="12.6" font-weight="bold" text-anchor="start" fill="#111" >0</text>
<line x1="615.2" y1="829.75" x2="622.6" y2="829.75" stroke="#111" stroke-width="1.9" />
<text x="606.44" y="834.21" font-size="12.6" font-weight="bold" text-anchor="start" fill="#111" >5</text>
<line x1="615.2" y1="787.4" x2="622.6" y2="787.4" stroke="#111" stroke-width="1.9" />
<text x="599.6" y="791.86" font-size="12.6" font-weight="bold" text-anchor="start" fill="#111" >10</text>
<line x1="615.2" y1="745.05" x2="622.6" y2="745.05" stroke="#111" stroke-width="1.9" />
<text x="599.44" y="749.51" font-size="12.6" font-weight="bold" text-anchor="start" fill="#111" >15</text>
<line x1="615.2" y1="702.7" x2="622.6" y2="702.7" stroke="#111" stroke-width="1.9" />
<text x="599.6" y="707.16" font-size="12.6" font-weight="bold" text-anchor="start" fill="#111" >20</text>
<rect x="635.7" y="831.8" width="26.2" height="39.3" fill="#fe0000" />
<line x1="648.8" y1="830.1" x2="648.8" y2="832.3" stroke="#fe0000" stroke-width="1.3" />
<line x1="642.8" y1="830.1" x2="654.8" y2="830.1" stroke="#fe0000" stroke-width="1.3" />
<rect x="674.5" y="836.4" width="26.1" height="34.7" fill="#fd7f7f" />
<line x1="687.55" y1="833.9" x2="687.55" y2="836.9" stroke="#fd7f7f" stroke-width="1.3" />
<line x1="681.75" y1="833.9" x2="693.35" y2="833.9" stroke="#fd7f7f" stroke-width="1.3" />
<rect x="713.8" y="729.5" width="26.2" height="141.6" fill="#0000fe" />
<line x1="726.9" y1="712.3" x2="726.9" y2="730" stroke="#0000fe" stroke-width="1.3" />
<line x1="720.6" y1="712.3" x2="733.2" y2="712.3" stroke="#0000fe" stroke-width="1.3" />
<rect x="752.9" y="736" width="26.4" height="135.1" fill="#5656fb" />
<line x1="766.1" y1="727.6" x2="766.1" y2="736.5" stroke="#5656fb" stroke-width="1.3" />
<line x1="759.8" y1="727.6" x2="772.4" y2="727.6" stroke="#5656fb" stroke-width="1.3" />
<line x1="615.2" y1="872.1" x2="792.7" y2="872.1" stroke="#111" stroke-width="1.9" />
<line x1="648.5" y1="872.1" x2="648.5" y2="879.3" stroke="#111" stroke-width="1.9" />
<line x1="687.6" y1="872.1" x2="687.6" y2="879.3" stroke="#111" stroke-width="1.9" />
<line x1="726.8" y1="872.1" x2="726.8" y2="879.3" stroke="#111" stroke-width="1.9" />
<line x1="766.1" y1="872.1" x2="766.1" y2="879.3" stroke="#111" stroke-width="1.9" />
<text x="607.94" y="892.9" font-size="13.6" font-weight="bold" fill="#111" textLength="19.84" lengthAdjust="spacingAndGlyphs">CC</text>
<rect x="646.3" y="888.2" width="4.4" height="2" fill="#111" />
<rect x="724.6" y="888.2" width="4.4" height="2" fill="#111" />
<rect x="684.7" y="887.3" width="5.8" height="1.8" fill="#111" />
<rect x="686.7" y="884.5" width="1.8" height="7.4" fill="#111" />
<rect x="763.2" y="887.3" width="5.8" height="1.8" fill="#111" />
<rect x="765.2" y="884.5" width="1.8" height="7.4" fill="#111" />
<line x1="643.7" y1="900" x2="692.5" y2="900" stroke="#000" stroke-width="3" />
<line x1="721.7" y1="900.2" x2="769.7" y2="900.2" stroke="#000" stroke-width="3" />
<text x="646.67" y="917" font-size="14" font-weight="bold" fill="#111" textLength="40.14" lengthAdjust="spacingAndGlyphs">Upper</text>
<text x="725.04" y="917" font-size="14" font-weight="bold" fill="#111" textLength="42.38" lengthAdjust="spacingAndGlyphs">Lower</text>
<line x1="687.2" y1="664.6" x2="766.1" y2="664.6" stroke="#000" stroke-width="2.2" />
<text x="716.64" y="663.83" font-size="16" font-weight="bold" text-anchor="start" fill="#111" >***</text>
<line x1="653.1" y1="687.4" x2="725.7" y2="687.4" stroke="#000" stroke-width="3" />
<text x="679.34" y="686.63" font-size="16" font-weight="bold" text-anchor="start" fill="#111" >***</text>
<line x1="724.9" y1="706.4" x2="768.6" y2="706.4" stroke="#000" stroke-width="2.5" />
<text x="737.95" y="700.4" font-size="15" font-weight="bold" fill="#111" textLength="24.95" lengthAdjust="spacingAndGlyphs">n.s.</text>
<line x1="647.5" y1="821.7" x2="686.6" y2="821.7" stroke="#000" stroke-width="3" />
<text x="655.27" y="815.5" font-size="15" font-weight="bold" fill="#111" textLength="26.8" lengthAdjust="spacingAndGlyphs">n.s.</text>
<text x="-0.93" y="0" font-size="14" font-weight="bold" fill="#111" textLength="131.02" lengthAdjust="spacingAndGlyphs" transform="translate(593 851.7) rotate(-90)">µg/24h/million cells</text>
<text x="843.56" y="644.7" font-size="26.5" font-weight="bold" fill="#111" textLength="19.38" lengthAdjust="spacingAndGlyphs">E</text>
<text x="904.3" y="640.1" font-size="15.5" font-weight="bold" fill="#111" textLength="110.11" lengthAdjust="spacingAndGlyphs">ALB secretion</text>
<line x1="874.6" y1="701.45" x2="874.6" y2="872.35" stroke="#111" stroke-width="1.9" />
<line x1="867.2" y1="871.4" x2="874.6" y2="871.4" stroke="#111" stroke-width="1.9" />
<text x="858.61" y="875.86" font-size="12.6" font-weight="bold" text-anchor="start" fill="#111" >0</text>
<line x1="867.2" y1="837.6" x2="874.6" y2="837.6" stroke="#111" stroke-width="1.9" />
<text x="851.6" y="842.06" font-size="12.6" font-weight="bold" text-anchor="start" fill="#111" >10</text>
<line x1="867.2" y1="803.8" x2="874.6" y2="803.8" stroke="#111" stroke-width="1.9" />
<text x="851.6" y="808.26" font-size="12.6" font-weight="bold" text-anchor="start" fill="#111" >20</text>
<line x1="867.2" y1="770" x2="874.6" y2="770" stroke="#111" stroke-width="1.9" />
<text x="851.6" y="774.46" font-size="12.6" font-weight="bold" text-anchor="start" fill="#111" >30</text>
<line x1="867.2" y1="736.2" x2="874.6" y2="736.2" stroke="#111" stroke-width="1.9" />
<text x="851.6" y="740.66" font-size="12.6" font-weight="bold" text-anchor="start" fill="#111" >40</text>
<line x1="867.2" y1="702.4" x2="874.6" y2="702.4" stroke="#111" stroke-width="1.9" />
<text x="851.6" y="706.86" font-size="12.6" font-weight="bold" text-anchor="start" fill="#111" >50</text>
<rect x="887.4" y="850.6" width="26.1" height="19.8" fill="#fe0000" />
<line x1="900.45" y1="847.9" x2="900.45" y2="851.1" stroke="#fe0000" stroke-width="1.3" />
<line x1="894.45" y1="847.9" x2="906.45" y2="847.9" stroke="#fe0000" stroke-width="1.3" />
<rect x="926.7" y="852" width="25.5" height="18.4" fill="#fd7f7f" />
<line x1="939.45" y1="850" x2="939.45" y2="852.5" stroke="#fd7f7f" stroke-width="1.3" />
<line x1="933.65" y1="850" x2="945.25" y2="850" stroke="#fd7f7f" stroke-width="1.3" />
<rect x="965.8" y="740.1" width="25.8" height="130.3" fill="#0000fe" />
<line x1="978.7" y1="712.3" x2="978.7" y2="740.6" stroke="#0000fe" stroke-width="1.3" />
<line x1="972.4" y1="712.3" x2="985" y2="712.3" stroke="#0000fe" stroke-width="1.3" />
<rect x="1004.8" y="777.2" width="25.9" height="93.2" fill="#5656fb" />
<line x1="1017.75" y1="772.6" x2="1017.75" y2="777.7" stroke="#5656fb" stroke-width="1.3" />
<line x1="1011.45" y1="772.6" x2="1024.05" y2="772.6" stroke="#5656fb" stroke-width="1.3" />
<line x1="867.2" y1="871.4" x2="1044.3" y2="871.4" stroke="#111" stroke-width="1.9" />
<line x1="899.9" y1="871.4" x2="899.9" y2="878.6" stroke="#111" stroke-width="1.9" />
<line x1="939.7" y1="871.4" x2="939.7" y2="878.6" stroke="#111" stroke-width="1.9" />
<line x1="978.4" y1="871.4" x2="978.4" y2="878.6" stroke="#111" stroke-width="1.9" />
<line x1="1017.1" y1="871.4" x2="1017.1" y2="878.6" stroke="#111" stroke-width="1.9" />
<text x="859.23" y="892.9" font-size="13.6" font-weight="bold" fill="#111" textLength="20.15" lengthAdjust="spacingAndGlyphs">CC</text>
<rect x="897.7" y="888.2" width="4.4" height="2" fill="#111" />
<rect x="976.2" y="888.2" width="4.4" height="2" fill="#111" />
<rect x="936.8" y="887.3" width="5.8" height="1.8" fill="#111" />
<rect x="938.8" y="884.5" width="1.8" height="7.4" fill="#111" />
<rect x="1014.2" y="887.3" width="5.8" height="1.8" fill="#111" />
<rect x="1016.2" y="884.5" width="1.8" height="7.4" fill="#111" />
<line x1="895.7" y1="900" x2="943.9" y2="900" stroke="#000" stroke-width="3" />
<line x1="973.8" y1="900.2" x2="1020.9" y2="900.2" stroke="#000" stroke-width="3" />
<text x="898.16" y="917" font-size="14" font-weight="bold" fill="#111" textLength="40.25" lengthAdjust="spacingAndGlyphs">Upper</text>
<text x="976.44" y="917" font-size="14" font-weight="bold" fill="#111" textLength="42.17" lengthAdjust="spacingAndGlyphs">Lower</text>
<line x1="934.7" y1="668.4" x2="1013.6" y2="668.4" stroke="#000" stroke-width="2.5" />
<text x="972.17" y="667.03" font-size="16" font-weight="bold" text-anchor="start" fill="#111" >*</text>
<line x1="904.7" y1="687.4" x2="977" y2="687.4" stroke="#000" stroke-width="3" />
<text x="935.16" y="686.83" font-size="16" font-weight="bold" text-anchor="start" fill="#111" >**</text>
<line x1="978.4" y1="707" x2="1017.7" y2="707" stroke="#000" stroke-width="2.5" />
<text x="985.4" y="700.4" font-size="15" font-weight="bold" fill="#111" textLength="26.04" lengthAdjust="spacingAndGlyphs">n.s.</text>
<line x1="898.5" y1="836.8" x2="941.8" y2="836.8" stroke="#000" stroke-width="3" />
<text x="908.6" y="830.1" font-size="15" font-weight="bold" fill="#111" textLength="26.04" lengthAdjust="spacingAndGlyphs">n.s.</text>
<text x="-0.93" y="0" font-size="14" font-weight="bold" fill="#111" textLength="131.02" lengthAdjust="spacingAndGlyphs" transform="translate(845.4 851.7) rotate(-90)">µg/24h/million cells</text>
<text x="45.04" y="1016.2" font-size="27.5" font-weight="bold" fill="#111" textLength="17.94" lengthAdjust="spacingAndGlyphs">F</text>
<text x="123.96" y="1031.3" font-size="21.5" font-weight="bold" fill="#111" textLength="202.97" lengthAdjust="spacingAndGlyphs">Total ALB secretion</text>
<line x1="110.3" y1="1061.45" x2="110.3" y2="1290.9" stroke="#111" stroke-width="2.2" />
<line x1="101.1" y1="1289.8" x2="110.3" y2="1289.8" stroke="#111" stroke-width="2.2" />
<text x="90.1" y="1295.64" font-size="16.5" font-weight="bold" text-anchor="start" fill="#111" >0</text>
<line x1="101.1" y1="1244.35" x2="110.3" y2="1244.35" stroke="#111" stroke-width="2.2" />
<text x="80.92" y="1250.19" font-size="16.5" font-weight="bold" text-anchor="start" fill="#111" >10</text>
<line x1="101.1" y1="1198.9" x2="110.3" y2="1198.9" stroke="#111" stroke-width="2.2" />
<text x="80.92" y="1204.74" font-size="16.5" font-weight="bold" text-anchor="start" fill="#111" >20</text>
<line x1="101.1" y1="1153.45" x2="110.3" y2="1153.45" stroke="#111" stroke-width="2.2" />
<text x="80.92" y="1159.29" font-size="16.5" font-weight="bold" text-anchor="start" fill="#111" >30</text>
<line x1="101.1" y1="1108" x2="110.3" y2="1108" stroke="#111" stroke-width="2.2" />
<text x="80.92" y="1113.84" font-size="16.5" font-weight="bold" text-anchor="start" fill="#111" >40</text>
<line x1="101.1" y1="1062.55" x2="110.3" y2="1062.55" stroke="#111" stroke-width="2.2" />
<text x="80.92" y="1068.39" font-size="16.5" font-weight="bold" text-anchor="start" fill="#111" >50</text>
<rect x="122.1" y="1213.6" width="21.5" height="75.2" fill="#fe0000" />
<line x1="132.85" y1="1209.4" x2="132.85" y2="1214.1" stroke="#fe0000" stroke-width="1.4" />
<line x1="127.25" y1="1209.4" x2="138.45" y2="1209.4" stroke="#fe0000" stroke-width="1.4" />
<rect x="154.2" y="1182.4" width="21.4" height="106.4" fill="#0000fe" />
<line x1="164.9" y1="1181" x2="164.9" y2="1182.9" stroke="#0000fe" stroke-width="1.4" />
<line x1="159.3" y1="1181" x2="170.5" y2="1181" stroke="#0000fe" stroke-width="1.4" />
<rect x="187.1" y="1198.3" width="21.5" height="90.5" fill="#5656fb" />
<line x1="197.85" y1="1192.1" x2="197.85" y2="1198.8" stroke="#5656fb" stroke-width="1.4" />
<line x1="192.25" y1="1192.1" x2="203.45" y2="1192.1" stroke="#5656fb" stroke-width="1.4" />
<rect x="240.7" y="1179" width="22.3" height="109.8" fill="#fe0000" />
<line x1="251.85" y1="1172.9" x2="251.85" y2="1179.5" stroke="#fe0000" stroke-width="1.4" />
<line x1="246.25" y1="1172.9" x2="257.45" y2="1172.9" stroke="#fe0000" stroke-width="1.4" />
<rect x="273.3" y="1123.4" width="22.2" height="165.4" fill="#0000fe" />
<line x1="284.4" y1="1110.8" x2="284.4" y2="1123.9" stroke="#0000fe" stroke-width="1.4" />
<line x1="278.8" y1="1110.8" x2="290" y2="1110.8" stroke="#0000fe" stroke-width="1.4" />
<rect x="306.5" y="1135.2" width="21.4" height="153.6" fill="#5656fb" />
<line x1="317.2" y1="1126.5" x2="317.2" y2="1135.7" stroke="#5656fb" stroke-width="1.4" />
<line x1="311.6" y1="1126.5" x2="322.8" y2="1126.5" stroke="#5656fb" stroke-width="1.4" />
<line x1="101.1" y1="1289.8" x2="339.2" y2="1289.8" stroke="#111" stroke-width="2.2" />
<line x1="165.3" y1="1289.8" x2="165.3" y2="1299.3" stroke="#111" stroke-width="2.2" />
<line x1="283.9" y1="1289.8" x2="283.9" y2="1299.3" stroke="#111" stroke-width="2.2" />
<text x="152.03" y="1318.8" font-size="16.5" font-weight="bold" fill="#111" textLength="24.34" lengthAdjust="spacingAndGlyphs">D2</text>
<text x="272.12" y="1318.8" font-size="16.5" font-weight="bold" fill="#111" textLength="22.47" lengthAdjust="spacingAndGlyphs">D4</text>
<line x1="130.7" y1="1132.6" x2="205.8" y2="1132.6" stroke="#000" stroke-width="3.5" />
<text x="150.3" y="1123.4" font-size="19.5" font-weight="bold" fill="#111" textLength="34.06" lengthAdjust="spacingAndGlyphs">n.s.</text>
<line x1="120.7" y1="1175.7" x2="166.2" y2="1175.7" stroke="#000" stroke-width="3.5" />
<text x="134.81" y="1176.59" font-size="21.5" font-weight="bold" text-anchor="start" fill="#111" >**</text>
<line x1="166.7" y1="1164.5" x2="205.2" y2="1164.5" stroke="#000" stroke-width="3.5" />
<text x="172.6" y="1155.3" font-size="19.5" font-weight="bold" fill="#111" textLength="34.06" lengthAdjust="spacingAndGlyphs">n.s.</text>
<line x1="252.2" y1="1056" x2="316.5" y2="1056" stroke="#000" stroke-width="3.4" />
<text x="280.9" y="1056.79" font-size="21.5" font-weight="bold" text-anchor="start" fill="#111" >*</text>
<line x1="282" y1="1086.4" x2="322" y2="1086.4" stroke="#000" stroke-width="3.4" />
<text x="290.12" y="1077.4" font-size="19.5" font-weight="bold" fill="#111" textLength="33.52" lengthAdjust="spacingAndGlyphs">n.s.</text>
<line x1="247.1" y1="1100.9" x2="286.9" y2="1100.9" stroke="#000" stroke-width="3.4" />
<text x="262.5" y="1101.89" font-size="21.5" font-weight="bold" text-anchor="start" fill="#111" >*</text>
<text x="-1.26" y="0" font-size="17" font-weight="bold" fill="#111" textLength="176.54" lengthAdjust="spacingAndGlyphs" transform="translate(70.4 1263.5) rotate(-90)">µg/24h/million cells</text>
<rect x="390.9" y="1071.8" width="23.6" height="11.9" fill="#fe0000" />
<rect x="390.9" y="1102.3" width="23.6" height="11.9" fill="#0000fe" />
<rect x="390.9" y="1133.2" width="23.6" height="11.8" fill="#5656fb" />
<text x="428.05" y="1083.6" font-size="19" font-weight="normal" fill="#111" textLength="117.26" lengthAdjust="spacingAndGlyphs">Non-polarized</text>
<text x="428.06" y="1114.2" font-size="19" font-weight="normal" fill="#111" textLength="78.15" lengthAdjust="spacingAndGlyphs">Polarized</text>
<text x="428.06" y="1144.4" font-size="19" font-weight="normal" fill="#111" textLength="116.15" lengthAdjust="spacingAndGlyphs">Polarized+CC</text>
<text x="553.97" y="1016.2" font-size="26.7" font-weight="bold" fill="#111" textLength="23.28" lengthAdjust="spacingAndGlyphs">G</text>
<rect x="590.3" y="1032.2" width="533" height="294" rx="8.5" fill="none" stroke="#000" stroke-opacity="0.45" stroke-width="1.6" filter="url(#gsh)"/>
<rect x="589.6" y="1031.5" width="533" height="294" rx="8.5" fill="#fff" stroke="#555" stroke-width="1.1"/>
<text x="634.43" y="1068.5" font-size="13.8" font-weight="bold" fill="#111" textLength="109.15" lengthAdjust="spacingAndGlyphs">Conventional 2D</text>
<text x="642.83" y="1084.7" font-size="13.8" font-weight="bold" fill="#111" textLength="92.43" lengthAdjust="spacingAndGlyphs">differentiation</text>
<text x="819.27" y="1066.6" font-size="13.8" font-weight="bold" fill="#111" textLength="78.49" lengthAdjust="spacingAndGlyphs">Polarization</text>
<text x="812.63" y="1082.3" font-size="13.8" font-weight="bold" fill="#111" textLength="92.12" lengthAdjust="spacingAndGlyphs">differentiation</text>
<text x="993.97" y="1067.5" font-size="13.8" font-weight="bold" fill="#111" textLength="78.49" lengthAdjust="spacingAndGlyphs">Polarization</text>
<text x="969.44" y="1083.7" font-size="13.8" font-weight="bold" fill="#111" textLength="127.34" lengthAdjust="spacingAndGlyphs">differentiation + CC</text>
<text x="811.54" y="1310.7" font-size="12.9" font-weight="bold" fill="#111" textLength="103.84" lengthAdjust="spacingAndGlyphs">Cellular polarity</text>
<line x1="768.4" y1="1088" x2="768.4" y2="1261" stroke="#777" stroke-width="1.1" stroke-dasharray="4.5 2.2"/>
<line x1="943.8" y1="1088" x2="943.8" y2="1261" stroke="#777" stroke-width="1.1" stroke-dasharray="4.5 2.2"/>
<path d="M598.4 1143.5 C601 1122 630 1104.5 681 1104.5 C732 1104.5 762 1122 764.6 1143.5" fill="none" stroke="#333" stroke-width="1.1"/>
<path d="M773.8 1143.5 L773.8 1113 Q774 1104.8 780 1104.8 L933 1104.8 Q939.3 1104.8 939.5 1113 L939.5 1143.5" fill="none" stroke="#333" stroke-width="1.1"/>
<path d="M949.6 1143.5 C950 1120 962 1104.8 990 1104.8 L1073 1104.8 C1101 1104.8 1114 1120 1114.4 1143.5" fill="none" stroke="#333" stroke-width="1.1"/>
<line x1="857.6" y1="1087.5" x2="857.6" y2="1123.5" stroke="#555" stroke-width="0.9" />
<path d="M854.6 1119.6 L857.6 1123.6 L860.6 1119.6" fill="none" stroke="#555" stroke-width="0.9"/>
<line x1="1030.7" y1="1091" x2="1030.7" y2="1125.6" stroke="#555" stroke-width="1.2" />
<rect x="660.1" y="1150.3" width="48.8" height="24.4" rx="3.5" fill="#1ea6e6"/>
<text x="667.92" y="1167.2" font-size="11.3" font-weight="bold" fill="#fff" textLength="32.98" lengthAdjust="spacingAndGlyphs">AMPK</text>
<rect x="836.2" y="1150.3" width="47.9" height="24.7" rx="3.5" fill="#1ea6e6"/>
<text x="843.57" y="1167.2" font-size="11.3" font-weight="bold" fill="#fff" textLength="32.98" lengthAdjust="spacingAndGlyphs">AMPK</text>
<rect x="1011.5" y="1150.7" width="47.6" height="24.3" rx="3.5" fill="#1ea6e6"/>
<text x="1018.72" y="1167.6" font-size="11.3" font-weight="bold" fill="#fff" textLength="32.98" lengthAdjust="spacingAndGlyphs">AMPK</text>
<circle cx="663" cy="1150.3" r="7.9" fill="#f40000"/>
<text x="660.97" y="1152.4" font-size="5.8" font-weight="bold" text-anchor="start" fill="#fff" >P</text>
<circle cx="836.2" cy="1150.3" r="7.9" fill="#f40000"/>
<text x="834.17" y="1152.4" font-size="5.8" font-weight="bold" text-anchor="start" fill="#fff" >P</text>
<circle cx="882.1" cy="1150.3" r="7.9" fill="#f40000"/>
<text x="880.07" y="1152.4" font-size="5.8" font-weight="bold" text-anchor="start" fill="#fff" >P</text>
<circle cx="1006.3" cy="1137.2" r="7.9" fill="#f40000"/>
<text x="1004.27" y="1139.3" font-size="5.8" font-weight="bold" text-anchor="start" fill="#fff" >P</text>
<circle cx="1055.1" cy="1132" r="7.9" fill="#f40000"/>
<text x="1053.07" y="1134.1" font-size="5.8" font-weight="bold" text-anchor="start" fill="#fff" >P</text>
<ellipse cx="682.8" cy="1222.6" rx="54.5" ry="24.4" fill="none" stroke="#555" stroke-width="0.9" stroke-dasharray="1.3 2.2"/>
<ellipse cx="860.2" cy="1222.6" rx="54.5" ry="24.4" fill="none" stroke="#555" stroke-width="0.9" stroke-dasharray="1.3 2.2"/>
<ellipse cx="1035.5" cy="1222.6" rx="54.5" ry="24.4" fill="none" stroke="#555" stroke-width="0.9" stroke-dasharray="1.3 2.2"/>
<path d="M658.5 1219 Q662.25 1223.4 664.4 1227.8" fill="none" stroke="#6fb56f" stroke-width="3.2"/><path d="M664.4 1227.8 Q666.2 1223.4 668.01 1219" fill="none" stroke="#4c8f55" stroke-width="2"/><path d="M668.01 1219 Q671.76 1223.4 673.9 1227.8" fill="none" stroke="#6fb56f" stroke-width="3.2"/><path d="M673.9 1227.8 Q675.71 1223.4 677.52 1219" fill="none" stroke="#4c8f55" stroke-width="2"/><path d="M677.52 1219 Q681.27 1223.4 683.41 1227.8" fill="none" stroke="#6fb56f" stroke-width="3.2"/><path d="M683.41 1227.8 Q685.22 1223.4 687.03 1219" fill="none" stroke="#4c8f55" stroke-width="2"/><path d="M687.03 1219 Q690.78 1223.4 692.92 1227.8" fill="none" stroke="#6fb56f" stroke-width="3.2"/><path d="M692.92 1227.8 Q694.73 1223.4 696.54 1219" fill="none" stroke="#4c8f55" stroke-width="2"/><path d="M696.54 1219 Q700.28 1223.4 702.43 1227.8" fill="none" stroke="#6fb56f" stroke-width="3.2"/><path d="M702.43 1227.8 Q704.24 1223.4 706.05 1219" fill="none" stroke="#4c8f55" stroke-width="2"/><path d="M658.5 1219 Q662.25 1223.4 664.4 1227.8" fill="none" stroke="#1b4a26" stroke-width="1.7"/><line x1="661.83" y1="1221.9" x2="662.78" y2="1224.9" stroke="#c33" stroke-width="1"/><path d="M668.01 1219 Q671.76 1223.4 673.9 1227.8" fill="none" stroke="#1b4a26" stroke-width="1.7"/><line x1="671.34" y1="1221.9" x2="672.29" y2="1224.9" stroke="#cc3" stroke-width="1"/><path d="M677.52 1219 Q681.27 1223.4 683.41 1227.8" fill="none" stroke="#1b4a26" stroke-width="1.7"/><line x1="680.85" y1="1221.9" x2="681.8" y2="1224.9" stroke="#33c" stroke-width="1"/><path d="M687.03 1219 Q690.78 1223.4 692.92 1227.8" fill="none" stroke="#1b4a26" stroke-width="1.7"/><line x1="690.36" y1="1221.9" x2="691.31" y2="1224.9" stroke="#c33" stroke-width="1"/><path d="M696.54 1219 Q700.28 1223.4 702.43 1227.8" fill="none" stroke="#1b4a26" stroke-width="1.7"/><line x1="699.86" y1="1221.9" x2="700.82" y2="1224.9" stroke="#3aa" stroke-width="1"/>
<path d="M836.5 1218.8 Q840.19 1223.2 842.28 1227.6" fill="none" stroke="#6fb56f" stroke-width="3.2"/><path d="M842.28 1227.6 Q844.06 1223.2 845.83 1218.8" fill="none" stroke="#4c8f55" stroke-width="2"/><path d="M845.83 1218.8 Q849.52 1223.2 851.61 1227.6" fill="none" stroke="#6fb56f" stroke-width="3.2"/><path d="M851.61 1227.6 Q853.38 1223.2 855.15 1218.8" fill="none" stroke="#4c8f55" stroke-width="2"/><path d="M855.15 1218.8 Q858.85 1223.2 860.94 1227.6" fill="none" stroke="#6fb56f" stroke-width="3.2"/><path d="M860.94 1227.6 Q862.71 1223.2 864.48 1218.8" fill="none" stroke="#4c8f55" stroke-width="2"/><path d="M864.48 1218.8 Q868.17 1223.2 870.26 1227.6" fill="none" stroke="#6fb56f" stroke-width="3.2"/><path d="M870.26 1227.6 Q872.04 1223.2 873.81 1218.8" fill="none" stroke="#4c8f55" stroke-width="2"/><path d="M873.81 1218.8 Q877.5 1223.2 879.59 1227.6" fill="none" stroke="#6fb56f" stroke-width="3.2"/><path d="M879.59 1227.6 Q881.36 1223.2 883.14 1218.8" fill="none" stroke="#4c8f55" stroke-width="2"/><path d="M836.5 1218.8 Q840.19 1223.2 842.28 1227.6" fill="none" stroke="#1b4a26" stroke-width="1.7"/><line x1="839.76" y1="1221.7" x2="840.7" y2="1224.7" stroke="#c33" stroke-width="1"/><path d="M845.83 1218.8 Q849.52 1223.2 851.61 1227.6" fill="none" stroke="#1b4a26" stroke-width="1.7"/><line x1="849.09" y1="1221.7" x2="850.02" y2="1224.7" stroke="#cc3" stroke-width="1"/><path d="M855.15 1218.8 Q858.85 1223.2 860.94 1227.6" fill="none" stroke="#1b4a26" stroke-width="1.7"/><line x1="858.42" y1="1221.7" x2="859.35" y2="1224.7" stroke="#33c" stroke-width="1"/><path d="M864.48 1218.8 Q868.17 1223.2 870.26 1227.6" fill="none" stroke="#1b4a26" stroke-width="1.7"/><line x1="867.75" y1="1221.7" x2="868.68" y2="1224.7" stroke="#c33" stroke-width="1"/><path d="M873.81 1218.8 Q877.5 1223.2 879.59 1227.6" fill="none" stroke="#1b4a26" stroke-width="1.7"/><line x1="877.07" y1="1221.7" x2="878.01" y2="1224.7" stroke="#3aa" stroke-width="1"/>
<path d="M1010 1218.8 Q1013.8 1223.2 1016.01 1227.6" fill="none" stroke="#6fb56f" stroke-width="3.2"/><path d="M1016.01 1227.6 Q1017.85 1223.2 1019.69 1218.8" fill="none" stroke="#4c8f55" stroke-width="2"/><path d="M1019.69 1218.8 Q1023.5 1223.2 1025.7 1227.6" fill="none" stroke="#6fb56f" stroke-width="3.2"/><path d="M1025.7 1227.6 Q1027.54 1223.2 1029.38 1218.8" fill="none" stroke="#4c8f55" stroke-width="2"/><path d="M1029.38 1218.8 Q1033.19 1223.2 1035.39 1227.6" fill="none" stroke="#6fb56f" stroke-width="3.2"/><path d="M1035.39 1227.6 Q1037.23 1223.2 1039.07 1218.8" fill="none" stroke="#4c8f55" stroke-width="2"/><path d="M1039.07 1218.8 Q1042.88 1223.2 1045.08 1227.6" fill="none" stroke="#6fb56f" stroke-width="3.2"/><path d="M1045.08 1227.6 Q1046.92 1223.2 1048.76 1218.8" fill="none" stroke="#4c8f55" stroke-width="2"/><path d="M1048.76 1218.8 Q1052.57 1223.2 1054.77 1227.6" fill="none" stroke="#6fb56f" stroke-width="3.2"/><path d="M1054.77 1227.6 Q1056.61 1223.2 1058.45 1218.8" fill="none" stroke="#4c8f55" stroke-width="2"/><path d="M1010 1218.8 Q1013.8 1223.2 1016.01 1227.6" fill="none" stroke="#1b4a26" stroke-width="1.7"/><line x1="1013.39" y1="1221.7" x2="1014.36" y2="1224.7" stroke="#c33" stroke-width="1"/><path d="M1019.69 1218.8 Q1023.5 1223.2 1025.7 1227.6" fill="none" stroke="#1b4a26" stroke-width="1.7"/><line x1="1023.08" y1="1221.7" x2="1024.05" y2="1224.7" stroke="#cc3" stroke-width="1"/><path d="M1029.38 1218.8 Q1033.19 1223.2 1035.39 1227.6" fill="none" stroke="#1b4a26" stroke-width="1.7"/><line x1="1032.77" y1="1221.7" x2="1033.74" y2="1224.7" stroke="#33c" stroke-width="1"/><path d="M1039.07 1218.8 Q1042.88 1223.2 1045.08 1227.6" fill="none" stroke="#1b4a26" stroke-width="1.7"/><line x1="1042.46" y1="1221.7" x2="1043.43" y2="1224.7" stroke="#c33" stroke-width="1"/><path d="M1048.76 1218.8 Q1052.57 1223.2 1054.77 1227.6" fill="none" stroke="#1b4a26" stroke-width="1.7"/><line x1="1052.16" y1="1221.7" x2="1053.12" y2="1224.7" stroke="#3aa" stroke-width="1"/>
<path d="M622 1294.6 L853 1272 Q858.2 1271.4 863 1272 L1095.2 1294.6 Z" fill="#fd7e7e"/></svg></body></html>
